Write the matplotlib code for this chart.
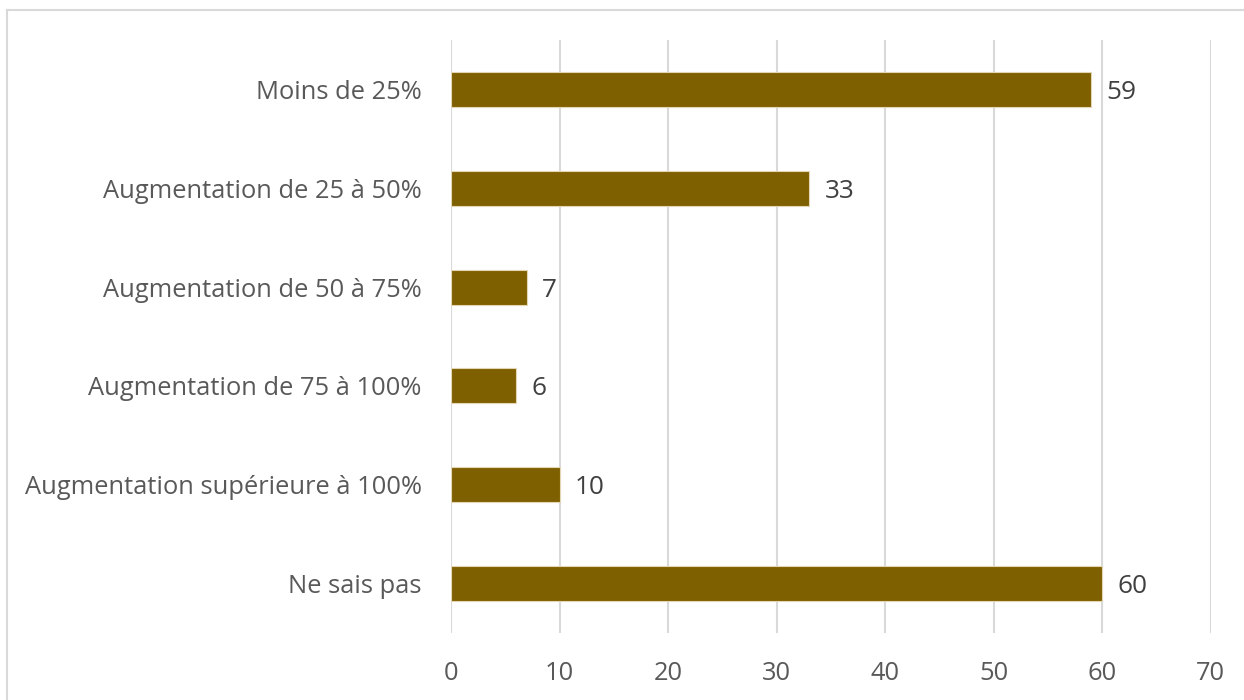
import matplotlib.pyplot as plt
from matplotlib.lines import Line2D

categories = ["Moins de 25%", "Augmentation de 25 à 50%", "Augmentation de 50 à 75%",
              "Augmentation de 75 à 100%", "Augmentation supérieure à 100%", "Ne sais pas"]
values = [59, 33, 7, 6, 10, 60]
xticks = [0, 10, 20, 30, 40, 50, 60, 70]

plt.rcParams['font.family'] = ['Open Sans', 'DejaVu Sans']

fig = plt.figure(figsize=(12.44, 7), dpi=100)
ax = fig.add_axes([451/1244, 67/700, (1210.7-451)/1244, 593/700])

ypos = list(range(len(categories)))
ax.barh(ypos, values, height=0.353, color='#7F6000', edgecolor='#E2D6B5', linewidth=0.8, zorder=3)
ax.set_ylim(len(categories) - 0.5, -0.5)
ax.set_xlim(0, 70)
ax.set_xticks(xticks)
ax.set_yticks(ypos)
ax.set_yticklabels(categories)
for y, v in zip(ypos, values):
    ax.text(v + 1.4, y, str(v), va='center_baseline', ha='left', fontsize=18.8, color='#404040')

ax.grid(axis='x', color='#D9D9D9', linewidth=1.5, zorder=0)
for s in ax.spines.values():
    s.set_visible(False)
ax.tick_params(axis='both', length=0, labelsize=18.4, labelcolor='#595959')
ax.tick_params(axis='x', pad=20.5)
ax.tick_params(axis='y', pad=21)
for lbl in ax.get_yticklabels():
    lbl.set_verticalalignment('center_baseline')

fig.add_artist(Line2D([7/1244, 1], [1 - 10/700, 1 - 10/700], transform=fig.transFigure, color='#D9D9D9', linewidth=1.5))
fig.add_artist(Line2D([7/1244, 7/1244], [0, 1 - 10/700], transform=fig.transFigure, color='#D9D9D9', linewidth=1.5))

fig.savefig('out.png', dpi=100, facecolor='white')
